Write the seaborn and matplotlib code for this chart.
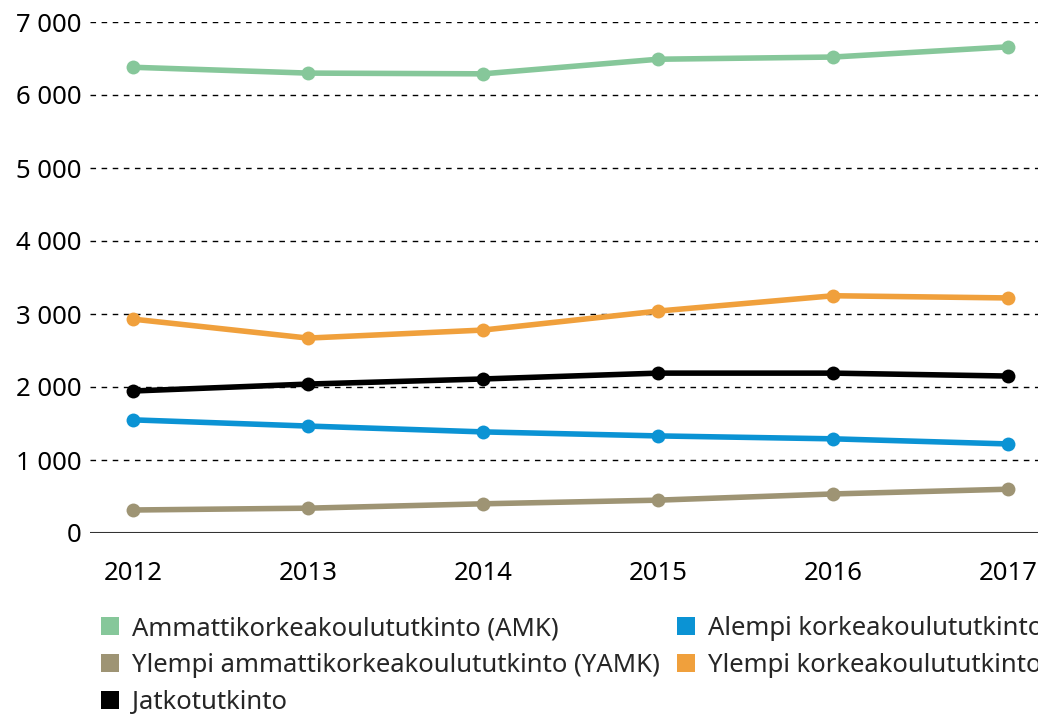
import matplotlib.pyplot as plt
import numpy as np
import pandas as pd
import seaborn as sns
from matplotlib.lines import Line2D
from matplotlib.ticker import FuncFormatter

years = [2012, 2013, 2014, 2015, 2016, 2017]
amk = [6380, 6300, 6290, 6490, 6520, 6660]
ylempi_kk = [2930, 2670, 2780, 3040, 3250, 3220]
jatko = [1945, 2040, 2110, 2190, 2190, 2150]
alempi_kk = [1550, 1465, 1385, 1330, 1290, 1220]
yamk = [315, 340, 400, 450, 535, 600]

series = {
    "Ammattikorkeakoulututkinto (AMK)": amk,
    "Ylempi ammattikorkeakoulututkinto (YAMK)": yamk,
    "Jatkotutkinto": jatko,
    "Alempi korkeakoulututkinto": alempi_kk,
    "Ylempi korkeakoulututkinto": ylempi_kk,
}
colors = {
    "Ammattikorkeakoulututkinto (AMK)": "#86c79a",
    "Ylempi ammattikorkeakoulututkinto (YAMK)": "#9e9474",
    "Jatkotutkinto": "#000000",
    "Alempi korkeakoulututkinto": "#0b93d4",
    "Ylempi korkeakoulututkinto": "#f0a03c",
}

# long-form table for seaborn
data = pd.DataFrame(
    [(y, name, v) for name, vals in series.items() for y, v in zip(years, vals)],
    columns=["year", "tutkinto", "count"],
)

sns.set_style("white")
plt.rcParams["font.family"] = ["Noto Sans", "DejaVu Sans"]

fig = plt.figure(figsize=(10.38, 7.15), dpi=100)
ax = fig.add_axes([90 / 1038, 1 - 533 / 715, 1 - 90 / 1038, (533 - 22) / 715])

# draw order: back to front roughly as in the original
draw_order = [
    "Ammattikorkeakoulututkinto (AMK)",
    "Ylempi korkeakoulututkinto",
    "Alempi korkeakoulututkinto",
    "Ylempi ammattikorkeakoulututkinto (YAMK)",
    "Jatkotutkinto",
]
for name in draw_order:
    sns.lineplot(
        data=data[data["tutkinto"] == name],
        x="year",
        y="count",
        color=colors[name],
        marker="o",
        markersize=10,
        markeredgewidth=0,
        linewidth=4,
        ax=ax,
        legend=False,
    )

ax.set_xlim(2011.755, 2017.17)
ax.set_ylim(0, 7000)
ax.set_yticks(np.arange(0, 7001, 1000))
ax.set_xticks(years)
ax.yaxis.set_major_formatter(
    FuncFormatter(lambda v, _: f"{int(v):,}".replace(",", " "))
)
ax.set_xlabel("")
ax.set_ylabel("")

for v in range(1000, 7001, 1000):
    ax.axhline(v, color="black", linestyle=(0, (4, 4)), linewidth=1, zorder=0)
ax.axhline(0, color="#333333", linewidth=1.5, zorder=0)

for s in ax.spines.values():
    s.set_visible(False)
ax.tick_params(axis="both", length=0, labelsize=18.5, colors="black")
ax.tick_params(axis="y", pad=6)
ax.tick_params(axis="x", pad=20)

# legend runs past the right edge, as in the source image
handles = [
    Line2D([], [], marker="s", linestyle="none", markersize=13,
           markerfacecolor=colors[n], markeredgewidth=0)
    for n in series
]
fig.legend(
    handles,
    list(series.keys()),
    loc="upper left",
    bbox_to_anchor=(100 / 1038, 1 - 616 / 715),
    ncol=2,
    frameon=False,
    fontsize=18.5,
    handlelength=0.8,
    handletextpad=0.45,
    columnspacing=0.6,
    labelspacing=0.47,
    borderaxespad=0,
    borderpad=0,
)

fig.savefig("out.png", dpi=100)
plt.close(fig)
